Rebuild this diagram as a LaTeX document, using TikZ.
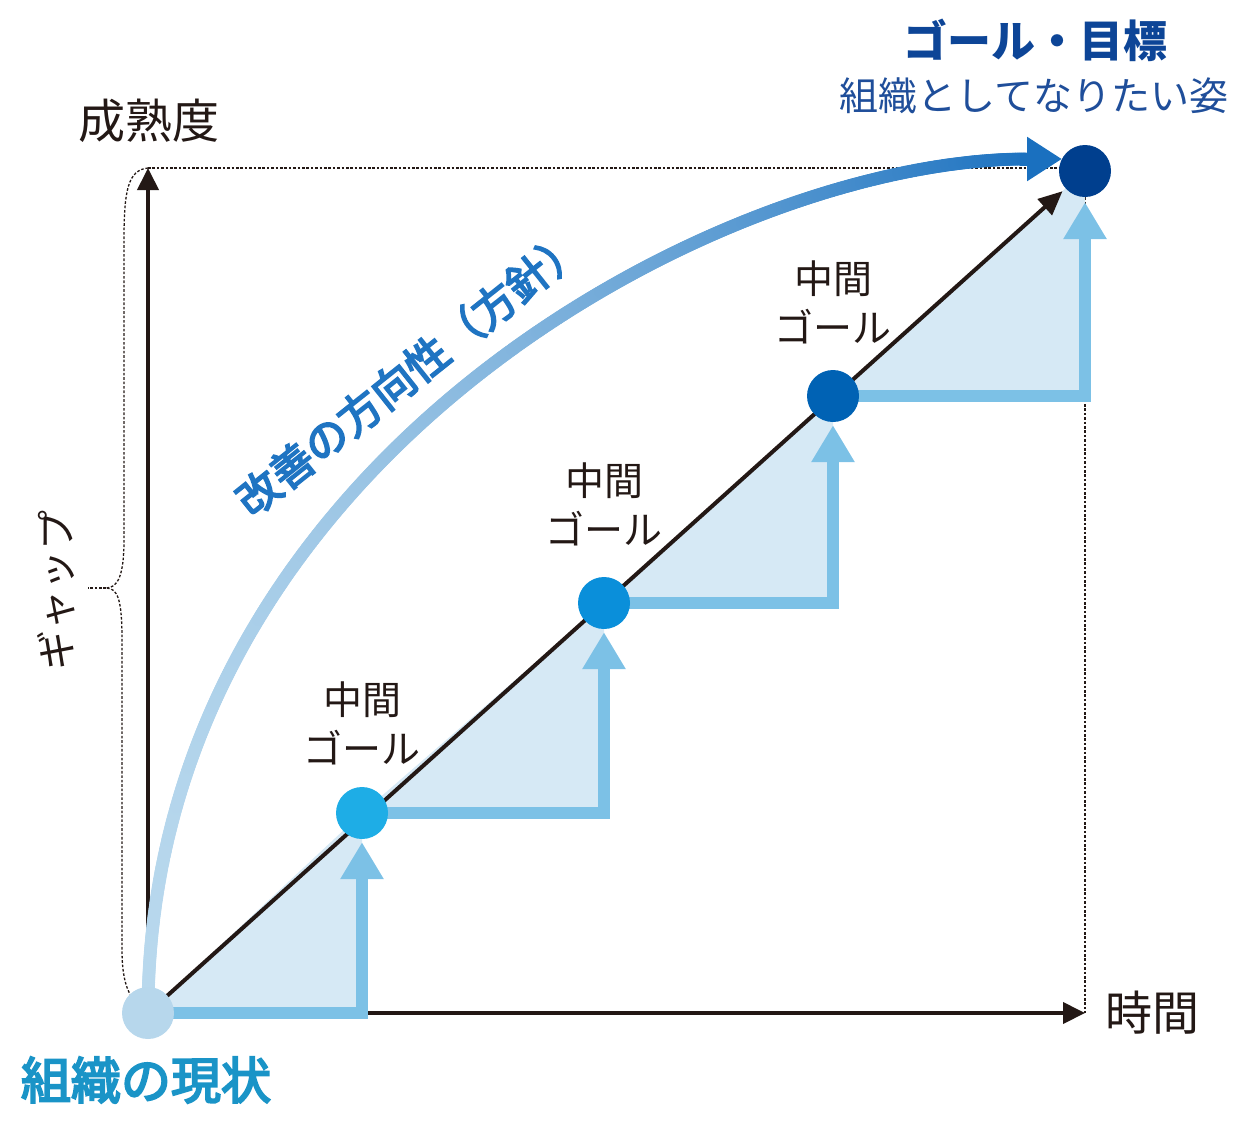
\documentclass[tikz,border=0pt]{standalone}
\usepackage{fontspec}
\usepackage{xcolor}
\usepackage{tikz}
\usetikzlibrary{arrows.meta,positioning,calc,backgrounds,decorations.markings}

\newfontfamily\cjk{Noto Sans CJK JP}
\newfontfamily\cjkmed[FakeBold=4]{Noto Sans CJK JP}

\definecolor{axisblack}{HTML}{231815}
\definecolor{curblue}{HTML}{B7D7EC}
\definecolor{midA}{HTML}{1EADE6}
\definecolor{midB}{HTML}{0A8FDA}
\definecolor{midC}{HTML}{0062B4}
\definecolor{goalblue}{HTML}{003F8E}
\definecolor{stepblue}{HTML}{7CC1E6}
\definecolor{stepbg}{HTML}{D6E9F5}
\definecolor{dirstart}{HTML}{B8D8ED}
\definecolor{dirend}{HTML}{1A70BF}
\definecolor{dirtext}{HTML}{1F74C2}
\definecolor{curtext}{HTML}{1A94C7}
\definecolor{goaltext}{HTML}{0D4597}
\definecolor{goalsubtext}{HTML}{1F4E9A}

\begin{document}
\begin{tikzpicture}[
    x=1pt, y=-1pt,
    node distance=22pt,
    dot/.style={circle, minimum size=52pt, inner sep=0pt},
    axis/.style={line width=4pt, draw=axisblack, -{Triangle[length=22pt,width=21pt]}},
    dotline/.style={line width=1.3pt, dash pattern=on 2.6pt off 1.8pt, draw=axisblack},
    stepfill/.style={fill=stepbg},
    stepline/.style={line width=12pt, draw=stepblue, line join=miter, -{Triangle[length=37pt,width=41pt]}},
    diag/.style={line width=4pt, draw=axisblack, -{Triangle[length=24pt,width=21pt]}, shorten >=4pt},
    dirgrad/.style={postaction={decorate}, decoration={markings,
        mark=between positions 0 and 1 step 2pt with {
            \pgfmathsetmacro\dirs{\pgfkeysvalueof{/pgf/decoration/mark info/distance from start}/\pgfdecoratedpathlength}
            \pgfmathsetmacro\dirmix{min(100,100*\dirs*\dirs)}
            \fill[dirend!\dirmix!dirstart] (0,0) circle (6.5pt);}}},
    dirhead/.style={line width=13pt, draw=dirend, -{Triangle[length=35pt,width=42pt]}},
    midlabel/.style={font=\cjk\fontsize{39}{49}\selectfont, text=axisblack, align=center, inner sep=0pt},
    axlabel/.style={font=\cjk\fontsize{47}{56}\selectfont, text=axisblack, inner sep=0pt},
    gaplabel/.style={font=\cjk\fontsize{40}{48}\selectfont, text=axisblack, inner sep=0pt},
    dirlabel/.style={font=\cjkmed\fontsize{43}{50}\selectfont, text=dirtext, inner sep=0pt},
    curlabel/.style={font=\cjkmed\fontsize{50}{60}\selectfont, text=curtext, inner sep=0pt},
    goaltitle/.style={font=\cjk\bfseries\fontsize{44}{52}\selectfont, text=goaltext, inner sep=0pt},
    goalsub/.style={font=\cjk\fontsize{39}{46}\selectfont, text=goalsubtext, inner sep=0pt}
]
\useasboundingbox (0,0) rectangle (1248,1120);

\node[dot, fill=curblue] (cur) at (148,1013) {};
\node[dot, fill=midA] (m1) at (362,813) {};
\node[dot, fill=midB] (m2) at (604,603) {};
\node[dot, fill=midC] (m3) at (833,396) {};
\node[dot, fill=goalblue] (goal) at (1085,171) {};
\coordinate (ytip) at (148,168);
\coordinate (xtip) at (1085,1013);
\coordinate (gaptip) at (106,588);
\coordinate (gapend) at (88,588);
\coordinate (dirbase) at (1027,159);
\coordinate (dirstem) at (1020,159);
\coordinate (dirtip) at (1062,159);

\node[midlabel, above=22pt of m1] (m1label) {中間\\ゴール};
\node[midlabel, above=31pt of m2] (m2label) {中間\\ゴール};
\node[midlabel, above=26pt of m3] (m3label) {中間\\ゴール};

\node[axlabel] (ylabel) at (149,121) {成熟度};
\node[axlabel, right=20pt of xtip] (xlabel) {時間};
\node[gaplabel, rotate=90] (gaplabel) at (56,590) {ギャップ};
\node[curlabel] (curlabel) at (146,1080) {組織の現状};
\node[goaltitle] (goaltitle) at (1035,40) {ゴール・目標};
\node[goalsub] (goalsub) at (1034,96) {組織としてなりたい姿};
\node[dirlabel, rotate=38.5] (dirlabel) at (410,372) {改善の方向性（方針）};

\begin{pgfonlayer}{background}
\draw[dotline] (ytip) -- (ytip -| goal);
\draw[dotline] (goal) -- (xtip);
\draw[dotline] (ytip) .. controls (128,170) and (124,190) .. (124,240) -- (124,540)
    .. controls (124,575) and (118,588) .. (gaptip)
    .. controls (118,588) and (122,600) .. (122,640) -- (122,950)
    .. controls (122,980) and (128,995) .. (137,1003);
\draw[dotline] (gaptip) -- (gapend);

\fill[stepfill] (cur.center) -| (m1.center) -- cycle;
\fill[stepfill] (m1.center) -| (m2.center) -- cycle;
\fill[stepfill] (m2.center) -| (m3.center) -- cycle;
\fill[stepfill] (m3.center) -| (goal.center) -- cycle;

\draw[axis] (cur.center) -- (ytip);
\draw[axis] (cur.center) -- (xtip);

\draw[stepline] (cur.center) -| ([yshift=-3pt]m1.south);
\draw[stepline] (m1.center) -| ([yshift=-3pt]m2.south);
\draw[stepline] (m2.center) -| ([yshift=-3pt]m3.south);
\draw[stepline] (m3.center) -| ([yshift=-5pt]goal.south);

\draw[diag] (cur.center) -- (goal);

\path[dirgrad] (cur.center) .. controls (148,463) and (720,159) .. (dirbase);
\draw[dirhead] (dirstem) -- (dirtip);
\end{pgfonlayer}

\end{tikzpicture}
\end{document}
